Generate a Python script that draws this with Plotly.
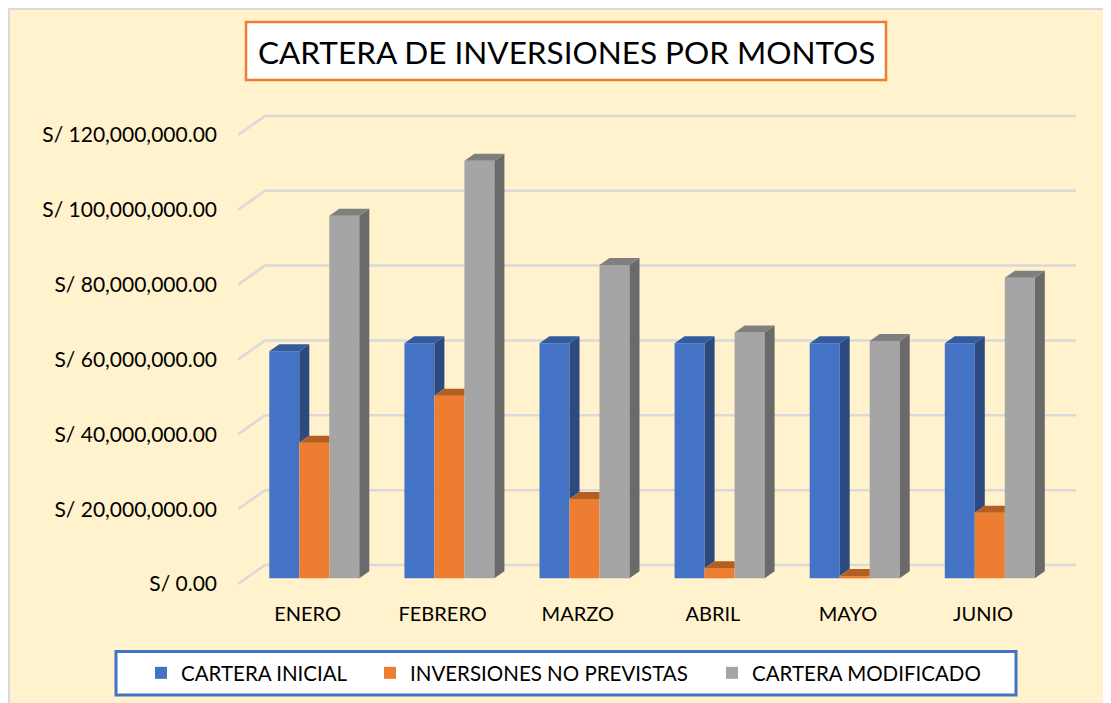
import plotly.graph_objects as go

# ---------------- data ----------------
months = ["ENERO", "FEBRERO", "MARZO", "ABRIL", "MAYO", "JUNIO"]
cartera_inicial = [60.7e6, 62.8e6, 62.8e6, 62.8e6, 62.8e6, 62.8e6]
inversiones_no_previstas = [36.2e6, 48.8e6, 21.2e6, 2.7e6, 0.6e6, 17.5e6]
cartera_modificado = [96.9e6, 111.6e6, 83.7e6, 65.7e6, 63.4e6, 80.3e6]
series_names = ["CARTERA INICIAL", "INVERSIONES NO PREVISTAS", "CARTERA MODIFICADO"]
y_tick_vals = [0, 20e6, 40e6, 60e6, 80e6, 100e6, 120e6]
y_tick_text = ["S/ 0.00", "S/ 20,000,000.00", "S/ 40,000,000.00", "S/ 60,000,000.00",
               "S/ 80,000,000.00", "S/ 100,000,000.00", "S/ 120,000,000.00"]

# ---------------- style / pseudo-3D geometry ----------------
FONT = "Lato"
front_cols = ["#4472C4", "#ED7D31", "#A5A5A5"]
side_cols = ["#2C4A80", "#B35B20", "#6A6A6A"]
top_cols = ["#335BA0", "#B55E22", "#7F7F7F"]

W = 0.2221        # bar width (category units)
SDX = 0.074       # bar depth, x
SDY = 1.87e6      # bar depth, y
BASE = 1.52e6     # bar floor offset (depth)
GDX = 0.1999      # wall depth x
GDY = 5.08e6      # wall depth y
XMIN, XMAX = -0.5648, 5.638
YMIN, YMAX = -4.276e6, 129.34e6

OFF = 8  # page body margin
FW, FH = 1125, 712
L, T = 238 - OFF, 100 - OFF
R = FW - (1076 - OFF)
B = FH - (600 - OFF)
PW, PH = FW - L - R, FH - T - B


def px(sx):
    return (sx - OFF - L) / PW


def py(sy):
    return (FH - B - (sy - OFF)) / PH


series = [cartera_inicial, inversiones_no_previstas, cartera_modificado]
fig = go.Figure()

# front faces
for k, vals in enumerate(series):
    fig.add_trace(go.Bar(
        x=[i + (k - 1) * W for i in range(len(months))],
        y=vals, base=BASE, width=W, name=series_names[k],
        marker=dict(color=front_cols[k], line=dict(width=0)),
        legend=["legend", "legend2", "legend3"][k],
        hoverinfo="skip",
    ))

# side and top faces
for k, vals in enumerate(series):
    sx, sy, tx, ty = [], [], [], []
    for i, v in enumerate(vals):
        xl = i + (k - 1) * W - W / 2
        xr = xl + W
        vn = series[k + 1][i] if k + 1 < len(series) else 0
        top = BASE + v
        if vn < v:
            lo = BASE + vn
            sx += [xr, xr, xr + SDX, xr + SDX, xr, None]
            sy += [lo, top, top + SDY, lo + SDY, lo, None]
            tx += [xl, xr, xr + SDX, xl + SDX, xl, None]
            ty += [top, top, top + SDY, top + SDY, top, None]
        else:
            tx += [xl, xr, xr, xl + SDX, xl, None]
            ty += [top, top, top + SDY, top + SDY, top, None]
    fig.add_trace(go.Scatter(x=sx, y=sy, mode="lines", fill="toself", fillcolor=side_cols[k],
                             line=dict(width=0), showlegend=False, hoverinfo="skip"))
    fig.add_trace(go.Scatter(x=tx, y=ty, mode="lines", fill="toself", fillcolor=top_cols[k],
                             line=dict(width=0), showlegend=False, hoverinfo="skip"))

shapes = []
# chart border
shapes.append(dict(type="rect", xref="paper", yref="paper", layer="below",
                   x0=px(9), x1=px(1160), y0=py(9), y1=py(760),
                   fillcolor="#FFF2CC", line=dict(color="#D9D9D9", width=2)))
# gridlines (wall)
for t in y_tick_vals:
    shapes.append(dict(type="path", xref="x", yref="y", layer="below",
                       path=f"M{XMIN},{t} L{XMIN + GDX},{t + GDY} L{XMAX},{t + GDY}",
                       line=dict(color="#D9D9D9", width=2.5)))
# title box
shapes.append(dict(type="rect", xref="paper", yref="paper", layer="above",
                   x0=px(246), x1=px(886), y0=py(22), y1=py(80),
                   fillcolor="white", line=dict(color="#ED7D31", width=2.5)))
# legend box
shapes.append(dict(type="rect", xref="paper", yref="paper", layer="below",
                   x0=px(116), x1=px(1016), y0=py(651.5), y1=py(695),
                   fillcolor="white", line=dict(color="#4472C4", width=3)))

legend_x = [141, 370, 712]
leg = {}
for k, name in enumerate(["legend", "legend2", "legend3"]):
    leg[name] = dict(x=px(legend_x[k]), y=py(673), xanchor="left", yanchor="middle",
                     orientation="h", bgcolor="rgba(0,0,0,0)", borderwidth=0,
                     font=dict(family=FONT, size=20.5, color="#000000"))

fig.update_layout(
    width=FW, height=FH,
    margin=dict(l=L, r=R, t=T, b=B, pad=0),
    paper_bgcolor="#FFF2CC", plot_bgcolor="rgba(0,0,0,0)",
    barmode="overlay",
    shapes=shapes,
    showlegend=True,
    annotations=[dict(text="CARTERA DE INVERSIONES POR MONTOS", xref="paper", yref="paper",
                      x=px(566), y=py(52), xanchor="center", yanchor="middle", showarrow=False,
                      font=dict(family=FONT, size=31.5, color="#000000"))],
    xaxis=dict(range=[XMIN, XMAX], tickvals=[i - 0.05 for i in range(len(months))], ticktext=months,
               showgrid=False, zeroline=False, showline=False, ticks="",
               tickfont=dict(family=FONT, size=20, color="#000000"), ticklabelstandoff=0),
    yaxis=dict(range=[YMIN, YMAX], tickvals=y_tick_vals, ticktext=y_tick_text,
               showgrid=False, zeroline=False, showline=False, ticks="",
               tickfont=dict(family=FONT, size=21, color="#000000"), ticklabelstandoff=20),
    **leg,
)

fig.write_html("out.html")
